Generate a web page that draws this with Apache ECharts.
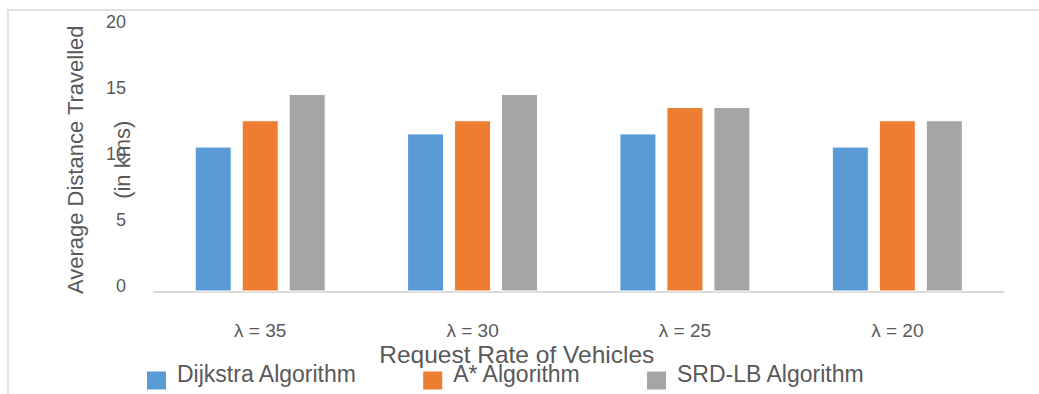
<!DOCTYPE html>
<html><head><meta charset="utf-8">
<script src="https://cdn.jsdelivr.net/npm/echarts@6/dist/echarts.min.js"></script>
<style>html,body{margin:0;padding:0;background:#fff}#c{width:1039px;height:394px}</style>
</head><body><div id="c"></div>
<script>
const categories = ['λ = 35', 'λ = 30', 'λ = 25', 'λ = 20'];
const seriesNames = ['Dijkstra Algorithm', 'A* Algorithm', 'SRD-LB Algorithm'];
const dijkstra = [11, 12, 12, 11];
const astar = [13, 13, 14, 13];
const srdlb = [15, 15, 14, 13];
const yTicks = [0, 5, 10, 15, 20];
const colors = ['#5B9BD5', '#ED7D31', '#A5A5A5'];
const FONT = 'Liberation Sans';
const chart = echarts.init(document.getElementById('c'), null, {renderer: 'svg'});
const values = [dijkstra, astar, srdlb];
chart.setOption({
  backgroundColor: '#fff',
  animation: false,
  textStyle: {fontFamily: FONT, color: '#595959'},
  graphic: [{type: 'rect', shape: {x: 8, y: 10, width: 1100, height: 500}, style: {fill: 'none', stroke: '#D9D9D9', lineWidth: 1.5}, silent: true}],
  legend: {
    left: 140, top: 357, itemWidth: 21, itemHeight: 20, itemGap: 64, icon: 'rect',
    formatter: n => '{a|' + n + '}',
    textStyle: {fontFamily: FONT, fontSize: 23, color: '#595959', lineHeight: 18,
      rich: {a: {fontFamily: FONT, fontSize: 23, color: '#595959', lineHeight: 18, padding: [0, 0, 14, 5]}}},
    data: seriesNames
  },
  grid: {left: 154, right: 35.5, top: 28, bottom: 102.5, containLabel: false, outerBoundsMode: 'none'},
  xAxis: {
    type: 'category', data: categories,
    axisLine: {lineStyle: {color: '#D9D9D9', width: 2}},
    axisTick: {show: false},
    axisLabel: {fontFamily: FONT, fontSize: 19, lineHeight: 16, color: '#595959', margin: 31},
    name: 'Request Rate of Vehicles', nameLocation: 'middle', nameGap: 54, nameMoveOverlap: false,
    nameTextStyle: {fontFamily: FONT, fontSize: 24.5, lineHeight: 18, color: '#595959', padding: [0, 124, 0, 0]}
  },
  yAxis: {
    type: 'value', min: 0, max: 20, interval: 5,
    axisLine: {show: false}, axisTick: {show: false}, splitLine: {show: false},
    axisLabel: {fontFamily: FONT, fontSize: 18, color: '#595959', margin: 28,
      formatter: v => yTicks.includes(v) ? '{a|' + v + '}' : '',
      rich: {a: {fontFamily: FONT, fontSize: 18, color: '#595959', padding: [0, 0, 12, 0]}}},
    name: 'Average Distance Travelled\n(in kms)', nameLocation: 'middle', nameGap: 8.5, nameMoveOverlap: false,
    nameTextStyle: {fontFamily: FONT, fontSize: 22, color: '#595959', lineHeight: 47}
  },
  series: seriesNames.map((n, i) => ({
    name: n, type: 'bar', data: values[i], barWidth: 37, barGap: '27%',
    itemStyle: {color: colors[i], borderColor: '#fff', borderWidth: 1}
  }))
});
</script></body></html>
